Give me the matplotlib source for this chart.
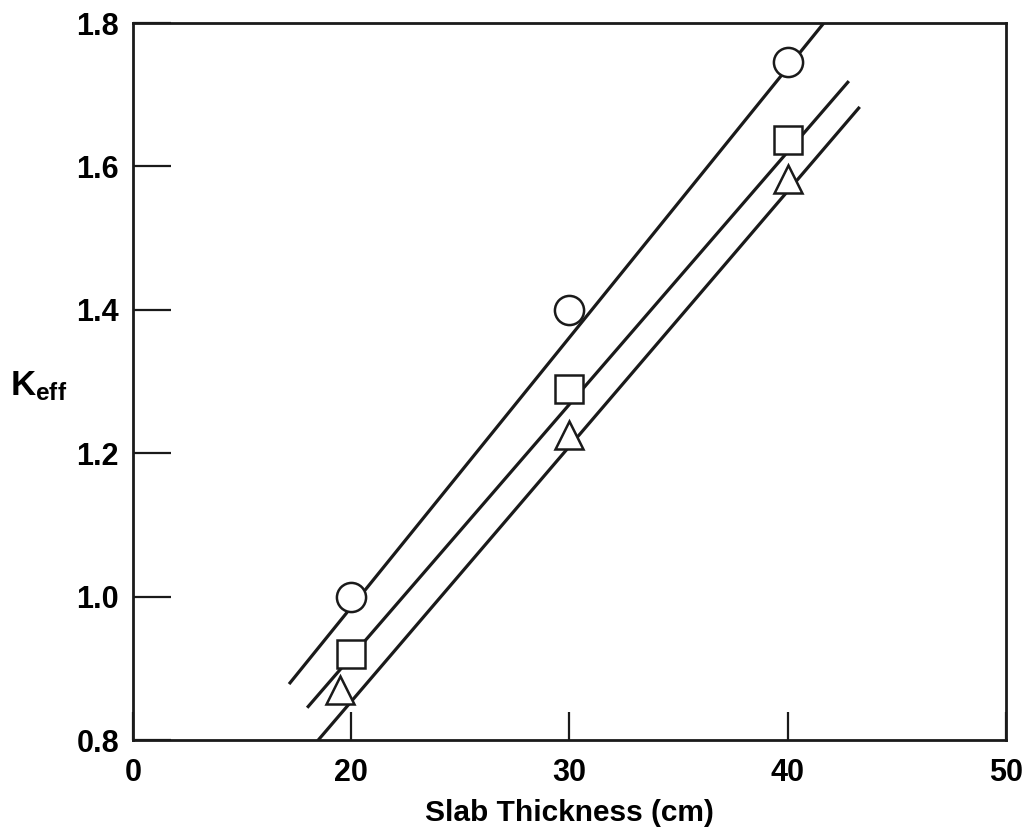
"""K_eff versus slab thickness, three slab configurations."""

import matplotlib

matplotlib.use("Agg")
import matplotlib.pyplot as plt

# measured points (slab thickness in cm, k_eff)
thickness = [20, 30, 40]
thickness_triangle = [19.5, 30, 40]
keff_circle = [1.00, 1.40, 1.745]
keff_square = [0.92, 1.29, 1.637]
keff_triangle = [0.87, 1.225, 1.583]

# fitted straight lines, end points
fit_circle_x = [17.15, 42.0]
fit_circle_y = [0.878, 1.813]
fit_square_x = [17.98, 42.8]
fit_square_y = [0.845, 1.719]
fit_triangle_x = [18.35, 43.3]
fit_triangle_y = [0.795, 1.683]

x_ticks = [10, 20, 30, 40, 50]
x_tick_labels = ["0", "20", "30", "40", "50"]
y_ticks = [0.8, 1.0, 1.2, 1.4, 1.6, 1.8]
y_tick_labels = ["0.8", "1.0", "1.2", "1.4", "1.6", "1.8"]

plt.rcParams["font.family"] = ["Liberation Sans", "DejaVu Sans"]
plt.rcParams["font.weight"] = "bold"
plt.rcParams["mathtext.fontset"] = "custom"
plt.rcParams["mathtext.bf"] = "Liberation Sans:bold"
plt.rcParams["mathtext.rm"] = "Liberation Sans:bold"

fig = plt.figure(figsize=(10.31, 8.31), dpi=100)
ax = fig.add_axes([0.129, 0.1095, 0.8467, 0.8628])

line_kw = dict(color="#1a1a1a", linewidth=2.3, solid_capstyle="butt", zorder=2)
ax.plot(fit_circle_x, fit_circle_y, **line_kw)
ax.plot(fit_square_x, fit_square_y, **line_kw)
ax.plot(fit_triangle_x, fit_triangle_y, **line_kw)

mark_kw = dict(linestyle="none", markerfacecolor="white", markeredgecolor="#1a1a1a",
               markeredgewidth=1.8, zorder=3, clip_on=False)
ax.plot(thickness, keff_circle, marker="o", markersize=21, **mark_kw)
ax.plot(thickness, keff_square, marker="s", markersize=20.5, **mark_kw)
ax.plot(thickness_triangle, keff_triangle, marker="^", markersize=19.5, **mark_kw)

ax.set_xlim(10, 50)
ax.set_ylim(0.8, 1.8)
ax.set_xticks(x_ticks)
ax.set_xticklabels(x_tick_labels)
ax.set_yticks(y_ticks)
ax.set_yticklabels(y_tick_labels)
ax.tick_params(axis="x", direction="in", length=20, width=1.6, pad=13,
               labelsize=22, color="#1a1a1a")
ax.tick_params(axis="y", direction="in", length=27, width=1.6, pad=10,
               labelsize=22, color="#1a1a1a")
for side in ("top", "bottom", "left", "right"):
    ax.spines[side].set_linewidth(2.0)
    ax.spines[side].set_color("#1a1a1a")

ax.set_xlabel("Slab Thickness (cm)", fontsize=21.5, fontweight="bold", labelpad=8)
fig.text(0.010, 0.535, r"$\mathbf{K_{eff}}$", fontsize=25, ha="left", va="center")

fig.savefig("out.png", dpi=100)
